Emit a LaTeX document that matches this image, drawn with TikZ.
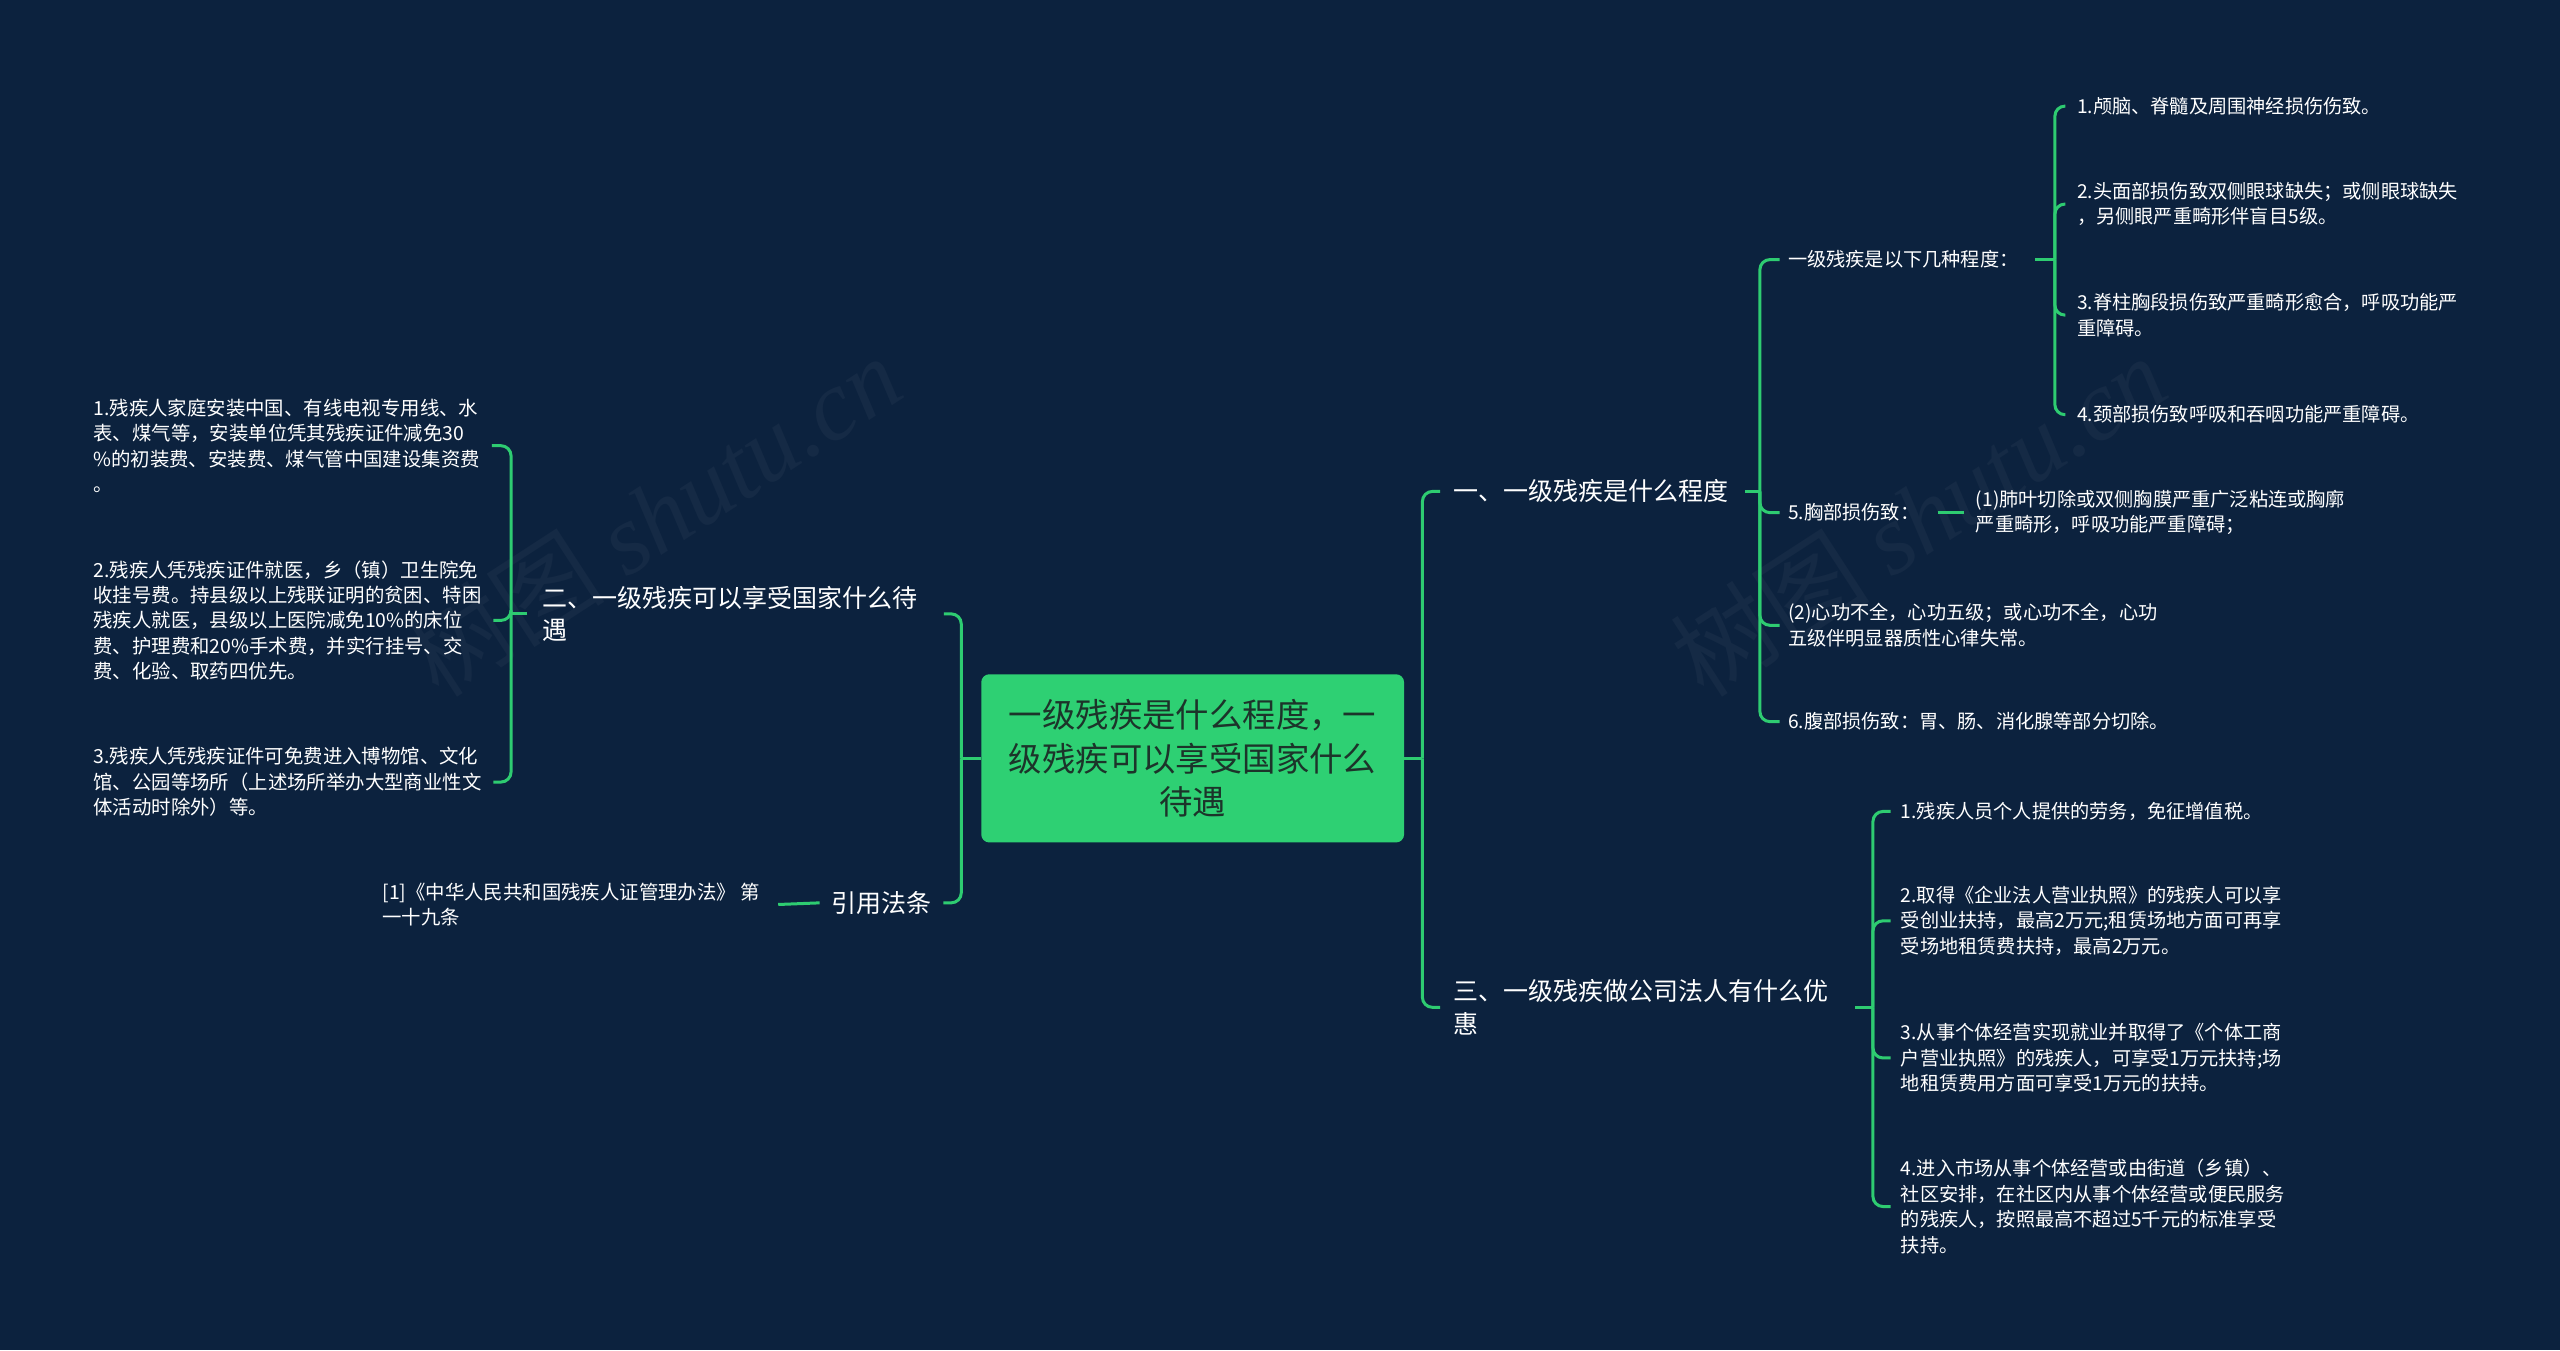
\documentclass[tikz,border=0pt]{standalone}
\usepackage{fontspec}
\setmainfont{Noto Sans CJK SC}
\newfontfamily\wmfont{Liberation Serif}
\usetikzlibrary{calc}
\definecolor{bg}{RGB}{12,34,62}
\definecolor{lk}{RGB}{46,204,113}
\definecolor{rootfill}{RGB}{46,208,115}
\definecolor{roottext}{RGB}{28,52,42}
\definecolor{wmc}{RGB}{21,42,69}
\begin{document}
\begin{tikzpicture}[x=0.816327pt,y=-0.816327pt,
  conn/.style={draw=lk,line width=1.5pt,rounded corners=5pt},
  stub/.style={draw=lk,line width=1.5pt},
  rootbox/.style={fill=rootfill,rounded corners=4pt,minimum width=211.4pt,minimum height=84.1pt,
    inner sep=0pt,align=center,text=roottext,font=\fontsize{16.7}{21.6}\selectfont},
  branch/.style={inner sep=0pt,anchor=west,align=left,text=white,font=\fontsize{12.5}{16.3}\selectfont},
  leaf/.style={inner sep=0pt,anchor=west,align=left,text=white,font=\fontsize{9.6}{12.7}\selectfont},
  leafl/.style={inner sep=0pt,anchor=west,align=left,text=white,font=\fontsize{9.7}{12.7}\selectfont},
  wmark/.style={text=wmc,rotate=33,font=\fontsize{50}{54}\selectfont}
]
\fill[bg] (0,0) rectangle (1568,827);
\useasboundingbox (0,0) rectangle (1568,827);

% watermarks
\node[wmark] (wm1) at (400,316) {树图 {\wmfont\itshape shutu.cn}};
\node[wmark] (wm2) at (1175,316) {树图 {\wmfont\itshape shutu.cn}};

% root
\node[rootbox] (root) at (730.5,464.5) {一级残疾是什么程度，一\\级残疾可以享受国家什么\\待遇};

% left branches
\node[branch] (n2) at (332,376) {二、一级残疾可以享受国家什么待\\遇};
\node[branch] (nref) at (509,553) {引用法条};

\node[leafl] (e1) at (57,273) {1.残疾人家庭安装中国、有线电视专用线、水\\表、煤气等，安装单位凭其残疾证件减免30\\\%的初装费、安装费、煤气管中国建设集资费\\。};
\node[leafl] (e2) at (57,380) {2.残疾人凭残疾证件就医，乡（镇）卫生院免\\收挂号费。持县级以上残联证明的贫困、特困\\残疾人就医，县级以上医院减免10\%的床位\\费、护理费和20\%手术费，并实行挂号、交\\费、化验、取药四优先。};
\node[leafl] (e3) at (57,479) {3.残疾人凭残疾证件可免费进入博物馆、文化\\馆、公园等场所（上述场所举办大型商业性文\\体活动时除外）等。};
\node[leafl] (r1) at (234,554) {[1]《中华人民共和国残疾人证管理办法》 第\\一十九条};

% right branches
\node[branch] (n1) at (890,301) {一、一级残疾是什么程度};
\node[branch] (n3) at (890,617) {三、一级残疾做公司法人有什么优\\惠};

\node[leaf] (a1) at (1095,159) {一级残疾是以下几种程度：};
\node[leaf] (a5) at (1095,314) {5.胸部损伤致：};
\node[leaf] (a2) at (1095,383) {(2)心功不全，心功五级；或心功不全，心功\\五级伴明显器质性心律失常。};
\node[leaf] (a6) at (1095,442) {6.腹部损伤致：胃、肠、消化腺等部分切除。};

\node[leaf] (b1) at (1272,65) {1.颅脑、脊髓及周围神经损伤伤致。};
\node[leaf] (b2) at (1272,125) {2.头面部损伤致双侧眼球缺失；或侧眼球缺失\\，另侧眼严重畸形伴盲目5级。};
\node[leaf] (b3) at (1272,193) {3.脊柱胸段损伤致严重畸形愈合，呼吸功能严\\重障碍。};
\node[leaf] (b4) at (1272,254) {4.颈部损伤致呼吸和吞咽功能严重障碍。};

\node[leaf] (c1) at (1210,314) {(1)肺叶切除或双侧胸膜严重广泛粘连或胸廓\\严重畸形，呼吸功能严重障碍；};

\node[leaf] (d1) at (1164,497) {1.残疾人员个人提供的劳务，免征增值税。};
\node[leaf] (d2) at (1164,564) {2.取得《企业法人营业执照》的残疾人可以享\\受创业扶持，最高2万元;租赁场地方面可再享\\受场地租赁费扶持，最高2万元。};
\node[leaf] (d3) at (1164,648) {3.从事个体经营实现就业并取得了《个体工商\\户营业执照》的残疾人，可享受1万元扶持;场\\地租赁费用方面可享受1万元的扶持。};
\node[leaf] (d4) at (1164,739) {4.进入市场从事个体经营或由街道（乡镇）、\\社区安排，在社区内从事个体经营或便民服务\\的残疾人，按照最高不超过5千元的标准享受\\扶持。};

% connectors: root left
\draw[stub] (root.west) -- ++(-12,0) coordinate (jl);
\foreach \c/\g in {n2/16,nref/7}
  \draw[conn] (jl) |- ($(\c.east)+(\g,0)$);
% root right
\draw[stub] (root.east) -- ++(11,0) coordinate (jr);
\foreach \c in {n1,n3}
  \draw[conn] (jr) |- ($(\c.west)+(-8,0)$);

% n2 children
\draw[stub] ($(n2.west)+(-9,0)$) -- ++(-10,0) coordinate (j2);
\foreach \c in {e1,e2,e3}
  \draw[conn] (j2) |- ($(\c.east)+(7,0)$);
% nref child
\draw[stub] ($(nref.west)+(-7,0)$) -- ($(r1.east)+(11,0)$);

% n1 children
\draw[stub] ($(n1.east)+(10,0)$) -- ++(9,0) coordinate (j1);
\foreach \c in {a1,a5,a2,a6}
  \draw[conn] (j1) |- ($(\c.west)+(-5,0)$);
% a1 children
\draw[stub] ($(a1.east)+(10,0)$) -- ++(12,0) coordinate (ja);
\foreach \c in {b1,b2,b3,b4}
  \draw[conn] (ja) |- ($(\c.west)+(-7,0)$);
% a5 child
\draw[stub] ($(a5.east)+(11,0)$) -- ($(c1.west)+(-7,0)$);
% n3 children
\draw[stub] ($(n3.east)+(16,0)$) -- ++(11,0) coordinate (j3);
\foreach \c in {d1,d2,d3,d4}
  \draw[conn] (j3) |- ($(\c.west)+(-6,0)$);
\end{tikzpicture}
\end{document}
